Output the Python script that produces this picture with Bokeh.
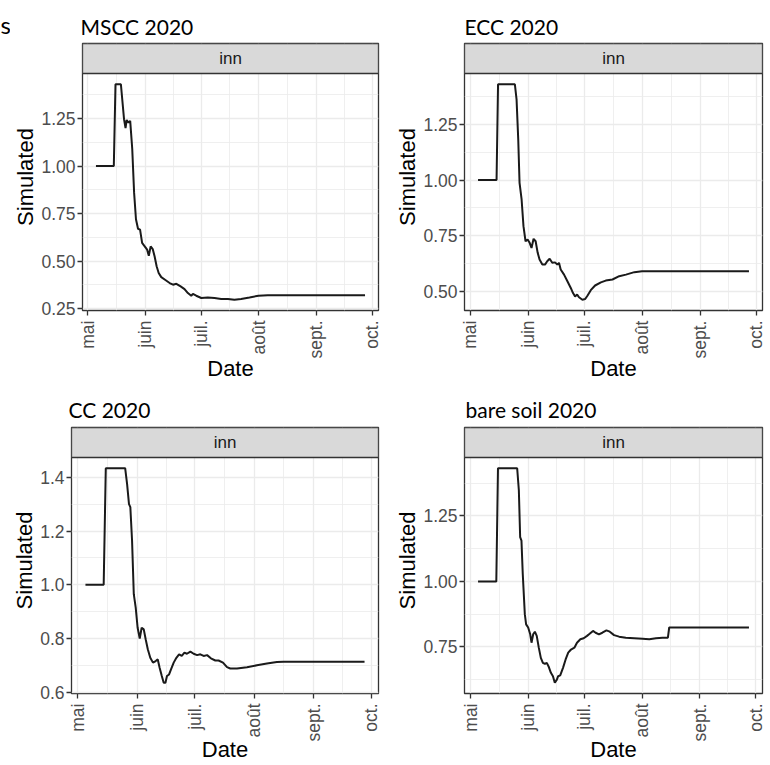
import math
import numpy as np
from bokeh.plotting import figure
from bokeh.models import FixedTicker, PrintfTickFormatter, BoxAnnotation, Label, Range1d
from bokeh.layouts import column, row
from bokeh.embed import file_html
from bokeh.resources import INLINE

# x values: days since 1 May 2020
month_ticks = [0, 31, 61, 92, 123, 153]
month_labels = ["mai", "juin", "juil.", "août", "sept.", "oct."]
month_minor = [15.5, 46, 76.5, 107.5, 138]

mscc_days = [4.5, 14.1, 15.0, 17.9, 19.6, 20.4, 21.0, 22.0, 22.9, 24.0, 25.0, 26.0, 27.1, 28.2, 29.3,
             30.7, 32.0, 32.9, 33.9, 35.0, 36.0, 37.1, 38.2, 39.6, 41.8, 44.1, 45.9, 47.7, 50.0, 52.1,
             53.9, 55.7, 56.6, 58.4, 61.1, 64.6, 68.2, 71.8, 75.4, 78.9, 82.5, 87.0, 91.8, 96.8, 114.6, 149.1]
mscc_inn = [1.00, 1.00, 1.431, 1.431, 1.246, 1.20, 1.243, 1.229, 1.238, 1.09, 0.86, 0.72, 0.67, 0.665, 0.595,
            0.577, 0.56, 0.528, 0.577, 0.563, 0.525, 0.472, 0.437, 0.415, 0.40, 0.384, 0.375, 0.38, 0.366, 0.352,
            0.331, 0.317, 0.327, 0.317, 0.305, 0.308, 0.305, 0.30, 0.30, 0.296, 0.30, 0.308, 0.317, 0.319, 0.319, 0.319]

ecc_days = [4.1, 14.0, 14.8, 23.8, 24.7, 25.6, 26.3, 27.4, 28.4, 29.5, 30.6, 31.7, 32.7, 33.8, 34.9,
            36.0, 37.0, 38.5, 39.9, 41.1, 42.4, 43.8, 45.3, 46.5, 47.4, 48.3, 50.1, 51.9, 53.7, 54.9,
            56.0, 57.1, 58.1, 59.9, 61.4, 62.6, 64.4, 66.7, 69.8, 72.4, 76.0, 79.6, 83.2, 87.7, 91.8, 97.5, 149.0]
ecc_inn = [1.00, 1.00, 1.431, 1.431, 1.363, 1.183, 0.988, 0.913, 0.793, 0.725, 0.733, 0.718, 0.695, 0.736, 0.725,
           0.673, 0.643, 0.62, 0.62, 0.635, 0.646, 0.628, 0.63, 0.62, 0.628, 0.598, 0.575, 0.545, 0.515, 0.492,
           0.477, 0.485, 0.473, 0.462, 0.465, 0.48, 0.505, 0.526, 0.54, 0.548, 0.553, 0.568, 0.575, 0.586, 0.59, 0.59, 0.59]

cc_days = [4.0, 13.5, 14.6, 24.7, 25.7, 26.7, 27.4, 28.3, 29.2, 30.2, 31.2, 32.3, 33.3, 34.4, 35.4,
           36.5, 37.8, 39.2, 40.6, 41.7, 42.7, 43.8, 44.8, 45.7, 46.5, 47.6, 48.6, 50.0, 51.4, 52.8,
           54.2, 55.6, 56.9, 58.7, 60.4, 62.2, 63.9, 65.6, 67.4, 69.4, 71.7, 73.4, 75.7, 77.8, 79.5,
           83.0, 88.2, 93.4, 98.6, 103.8, 107.3, 149.5]
cc_inn = [1.00, 1.00, 1.434, 1.434, 1.376, 1.30, 1.289, 1.164, 0.965, 0.915, 0.84, 0.80, 0.84, 0.834, 0.797,
          0.76, 0.728, 0.71, 0.716, 0.722, 0.69, 0.66, 0.635, 0.635, 0.66, 0.666, 0.685, 0.71, 0.728, 0.741,
          0.735, 0.747, 0.743, 0.751, 0.743, 0.738, 0.741, 0.735, 0.738, 0.726, 0.718, 0.718, 0.71, 0.693, 0.688,
          0.688, 0.693, 0.70, 0.707, 0.712, 0.713, 0.713]

bare_days = [4.0, 13.8, 14.7, 25.0, 25.9, 26.6, 27.3, 28.0, 29.1, 29.8, 30.9, 32.0, 32.7, 33.6, 34.5,
             35.5, 36.6, 37.7, 38.8, 39.9, 40.9, 42.0, 43.1, 44.2, 45.2, 46.3, 47.0, 48.1, 49.6, 51.0,
             52.4, 53.9, 55.7, 57.1, 58.9, 60.7, 62.5, 63.9, 65.7, 67.1, 68.9, 70.7, 72.9, 74.7, 77.0,
             79.7, 83.3, 87.8, 92.3, 95.9, 99.5, 103.0, 105.9, 106.6, 149.4]
bare_inn = [1.00, 1.00, 1.432, 1.432, 1.348, 1.169, 1.156, 1.028, 0.875, 0.836, 0.824, 0.798, 0.766, 0.798, 0.808,
            0.792, 0.747, 0.708, 0.689, 0.685, 0.689, 0.673, 0.651, 0.638, 0.613, 0.625, 0.638, 0.641, 0.67, 0.702,
            0.728, 0.74, 0.747, 0.766, 0.779, 0.783, 0.792, 0.80, 0.811, 0.804, 0.798, 0.804, 0.813, 0.808, 0.795,
            0.789, 0.785, 0.783, 0.781, 0.779, 0.783, 0.785, 0.785, 0.824, 0.824]

titles = ["MSCC 2020", "ECC 2020", "CC 2020", "bare soil 2020"]
strip_label = "inn"
y_title = "Simulated"
x_title = "Date"
stray_letter = "s"

STRIP = 30
TICK_FONT = "Liberation Sans"
TITLE_FONT = "Lato"


def panel(title, days, vals, yticks, yminor, fmt, width, height, bl, br, bt, bb, toff, tstand, xlab_standoff):
    xs = np.array(days, dtype=float)
    ys = np.array(vals, dtype=float)
    dx = (xs.max() - xs.min()) * 0.05
    dy = (ys.max() - ys.min()) * 0.05
    xlo, xhi = xs.min() - dx, xs.max() + dx
    ylo, yhi = ys.min() - dy, ys.max() + dy
    frame_h = height - bt - bb
    plot_h = frame_h - STRIP
    ytop = yhi + STRIP / plot_h * (yhi - ylo)

    p = figure(width=width, height=height, output_backend="svg", toolbar_location=None,
               x_range=Range1d(xlo, xhi), y_range=Range1d(ylo, ytop),
               min_border_left=bl, min_border_right=br, min_border_top=bt, min_border_bottom=bb,
               background_fill_color="white", border_fill_color="white")
    p.outline_line_color = "#333333"
    p.outline_line_width = 1.3

    p.title.text = title
    p.title.text_font = TITLE_FONT
    p.title.text_font_size = "21px"
    p.title.text_font_style = "normal"
    p.title.text_color = "black"
    p.title.align = "left"
    p.title.offset = toff
    p.title.standoff = tstand

    # axes
    p.xaxis.ticker = FixedTicker(ticks=month_ticks, minor_ticks=month_minor)
    p.xaxis.major_label_overrides = {t: l for t, l in zip(month_ticks, month_labels)}
    p.xaxis.major_label_orientation = math.pi / 2
    p.yaxis.ticker = FixedTicker(ticks=yticks, minor_ticks=yminor)
    p.yaxis.formatter = PrintfTickFormatter(format=fmt)
    for ax in (p.xaxis, p.yaxis):
        ax.axis_line_color = None
        ax.minor_tick_line_color = None
        ax.major_tick_line_color = "#333333"
        ax.major_tick_line_width = 1.3
        ax.major_tick_out = 5
        ax.major_tick_in = 0
        ax.major_label_text_font = TICK_FONT
        ax.major_label_text_font_size = "17.5px"
        ax.major_label_text_color = "#4D4D4D"
        ax.axis_label_text_font = TICK_FONT
        ax.axis_label_text_font_size = "22px"
        ax.axis_label_text_font_style = "normal"
        ax.axis_label_text_color = "black"
    p.xaxis.axis_label = x_title
    p.yaxis.axis_label = y_title
    p.xaxis.major_label_standoff = 5
    p.xaxis.axis_label_standoff = xlab_standoff
    p.yaxis.major_label_standoff = 2
    p.yaxis.axis_label_standoff = 0

    for g in (p.xgrid, p.ygrid):
        g.grid_line_color = "#EBEBEB"
        g.grid_line_width = 1.3
        g.minor_grid_line_color = "#EBEBEB"
        g.minor_grid_line_width = 0.8

    p.line(xs, ys, line_color="#1A1A1A", line_width=2)

    # facet strip
    p.add_layout(BoxAnnotation(bottom=yhi, fill_color="#D9D9D9", fill_alpha=1.0,
                               line_color="#333333", line_width=1.3, line_alpha=1.0))
    p.add_layout(Label(x=(xlo + xhi) / 2, y=(yhi + ytop) / 2, text=strip_label,
                       text_align="center", text_baseline="middle",
                       text_font=TICK_FONT, text_font_size="17px", text_color="#1A1A1A"))
    return p


# narrow column whose title is the letter seen at the top-left edge of the source picture
ps = figure(width=10, height=384, output_backend="svg", toolbar_location=None, title=stray_letter,
            x_range=Range1d(0, 1), y_range=Range1d(0, 1),
            x_axis_location=None, y_axis_location=None, min_border=0,
            background_fill_color="white", border_fill_color="white")
ps.outline_line_color = None
ps.grid.visible = False
ps.title.text_font = TITLE_FONT
ps.title.text_font_size = "24px"
ps.title.text_font_style = "normal"
ps.title.text_color = "black"
ps.title.align = "left"
ps.title.offset = 0
ps.title.standoff = 9

p1 = panel(titles[0], mscc_days, mscc_inn, [0.25, 0.5, 0.75, 1.0, 1.25],
           [0.375, 0.625, 0.875, 1.125, 1.375], "%.2f", 375, 384, 71, 7, 43, 74, -2, 9, -5)
p2 = panel(titles[1], ecc_days, ecc_inn, [0.5, 0.75, 1.0, 1.25],
           [0.625, 0.875, 1.125, 1.375], "%.2f", 385, 384, 79, 8, 43, 74, 0, 9, -5)
p3 = panel(titles[2], cc_days, cc_inn, [0.6, 0.8, 1.0, 1.2, 1.4],
           [0.7, 0.9, 1.1, 1.3], "%.1f", 385, 381, 71, 7, 43, 72, -3, 12, -7)
p4 = panel(titles[3], bare_days, bare_inn, [0.75, 1.0, 1.25],
           [0.625, 0.875, 1.125, 1.375], "%.2f", 385, 381, 79, 8, 43, 72, 1, 12, -7)

layout = column(row(ps, p1, p2), row(p3, p4))
open("out.html", "w").write(file_html(layout, INLINE))
